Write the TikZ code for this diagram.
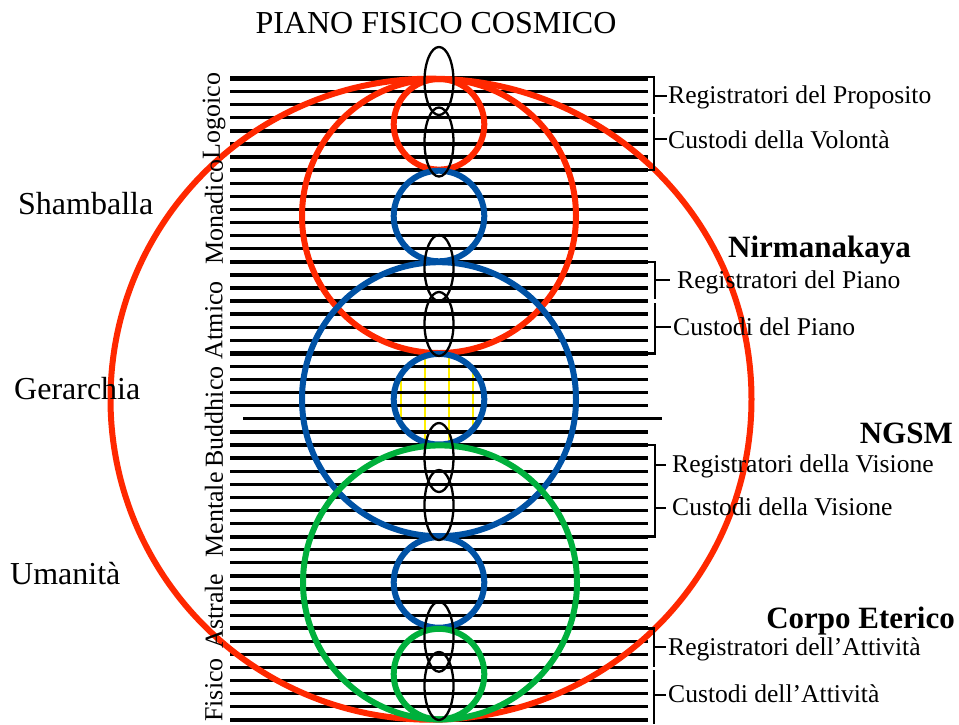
\documentclass[tikz,border=0pt]{standalone}
\usepackage{fontspec}
\setmainfont{Liberation Serif}
\definecolor{cred}{RGB}{255,40,0}
\definecolor{cblue}{RGB}{0,82,165}
\definecolor{cgreen}{RGB}{0,176,60}
\definecolor{cyel}{RGB}{255,240,0}
\begin{document}
\begin{tikzpicture}[x=1pt,y=-1pt,
  hline/.style={line width=3.3pt},
  pline/.style={line width=4.3pt},
  ring/.style={line width=6pt},
  egg/.style={line width=2.3pt},
  brk/.style={line width=2.6pt},
  lbl/.style={font=\fontsize{25.6}{30}\selectfont, anchor=base west, inner sep=0pt},
  big/.style={font=\fontsize{32}{38}\selectfont, inner sep=0pt},
  boldlbl/.style={font=\fontsize{31}{36}\selectfont\bfseries, inner sep=0pt},
  planelbl/.style={font=\fontsize{26}{30}\selectfont, rotate=90, inner sep=0pt}]
\useasboundingbox (0,0) rectangle (959,724);
\fill[white] (0,0) rectangle (959,724);
% yellow lines inside Buddhic circle
\begin{scope}
\clip (439,399.2) circle[radius=45pt];
\foreach \x in {401,425,449,473} \draw[cyel, line width=1.5pt] (\x,350) -- (\x,450);
\end{scope}
% horizontal lines
\foreach \i in {0,...,49}{
  \pgfmathsetmacro\yy{78.5+13.09*\i}
  \pgfmathtruncatemacro\m{mod(\i,7)}
  \ifnum\i=26 \draw[hline] (243,\yy) -- (662,\yy);
  \else\ifnum\m=0 \draw[pline] (230,\yy) -- (648,\yy);
  \else \draw[hline] (230,\yy) -- (648,\yy); \fi\fi
}
% circles
\draw[ring, cred] (431,399.2) circle[radius=320.5pt];
\draw[ring, cred] (439,216) circle[radius=137pt];
\draw[ring, cred] (439,124.3) circle[radius=45.3pt];
\draw[ring, cblue] (439,216) circle[radius=45.3pt];
\draw[ring, cblue] (439,399.2) circle[radius=137pt];
\draw[ring, cblue] (439,399.2) circle[radius=45.3pt];
\draw[ring, cgreen] (440,582.4) circle[radius=137pt];
\draw[ring, cblue] (439,582.4) circle[radius=45.3pt];
\draw[ring, cgreen] (439,674.1) circle[radius=45.3pt];
% ellipses
\foreach \c/\r in {81/34,142/34.5,268/33,324/32,457.5/34.5,505/35,636.7/35,686/34}
  \draw[egg] (439,\c) ellipse[x radius=14.5pt, y radius=\r pt];
% brackets
\draw[brk] (646,77) -- (654,77) -- (654,114);
\draw[brk] (654,96) -- (667,96);
\draw[brk] (654,117) -- (654,170) -- (646,170);
\draw[brk] (654,139) -- (667,139);
\draw[brk] (646,261.8) -- (655,261.8) -- (655,299);
\draw[brk] (655,280) -- (670,280);
\draw[brk] (655,303) -- (655,353.4) -- (646,353.4);
\draw[brk] (655,327) -- (671,327);
\draw[brk] (646,445) -- (655,445) -- (655,536.6) -- (646,536.6);
\draw[brk] (655,465) -- (666,465);
\draw[brk] (655,508) -- (666,508);
\draw[brk] (646,628.2) -- (654,628.2) -- (654,667);
\draw[brk] (654,647) -- (666,647);
\draw[brk] (654,670) -- (654,724);
\draw[brk] (654,695) -- (666,695);
% texts
\node[big, anchor=base] (title) at (436,33) {PIANO FISICO COSMICO};
\node[big, anchor=base west] (sham) at (18,214) {Shamballa};
\node[big, anchor=base west] (ger) at (14,399) {Gerarchia};
\node[big, anchor=base west] (uma) at (10,584) {Umanità};
\node[planelbl] (p1) at (214,116) {Logoico};
\node[planelbl] (p2) at (214,212) {Monadico};
\node[planelbl] (p3) at (214,320) {Atmico};
\node[planelbl] (p4) at (214,417) {Buddhico};
\node[planelbl] (p5) at (214,515) {Mentale};
\node[planelbl] (p6) at (214,611) {Astrale};
\node[planelbl] (p7) at (214,690) {Fisico};
\node[lbl] (rp) at (668,103) {Registratori del Proposito};
\node[lbl] (cv) at (668,148) {Custodi della Volontà};
\node[lbl] (rpi) at (677,288) {Registratori del Piano};
\node[lbl] (cpi) at (673,335) {Custodi del Piano};
\node[lbl] (rvi) at (672,472) {Registratori della Visione};
\node[lbl] (cvi) at (672,515) {Custodi della Visione};
\node[lbl] (ra) at (668,655) {Registratori dell’Attività};
\node[lbl] (ca) at (668,702) {Custodi dell’Attività};
\node[boldlbl, anchor=base west] (nir) at (728,257) {Nirmanakaya};
\node[boldlbl, anchor=base east] (ngsm) at (953,443) {NGSM};
\node[boldlbl, anchor=base east] (ce) at (955,628) {Corpo Eterico};
\end{tikzpicture}
\end{document}
